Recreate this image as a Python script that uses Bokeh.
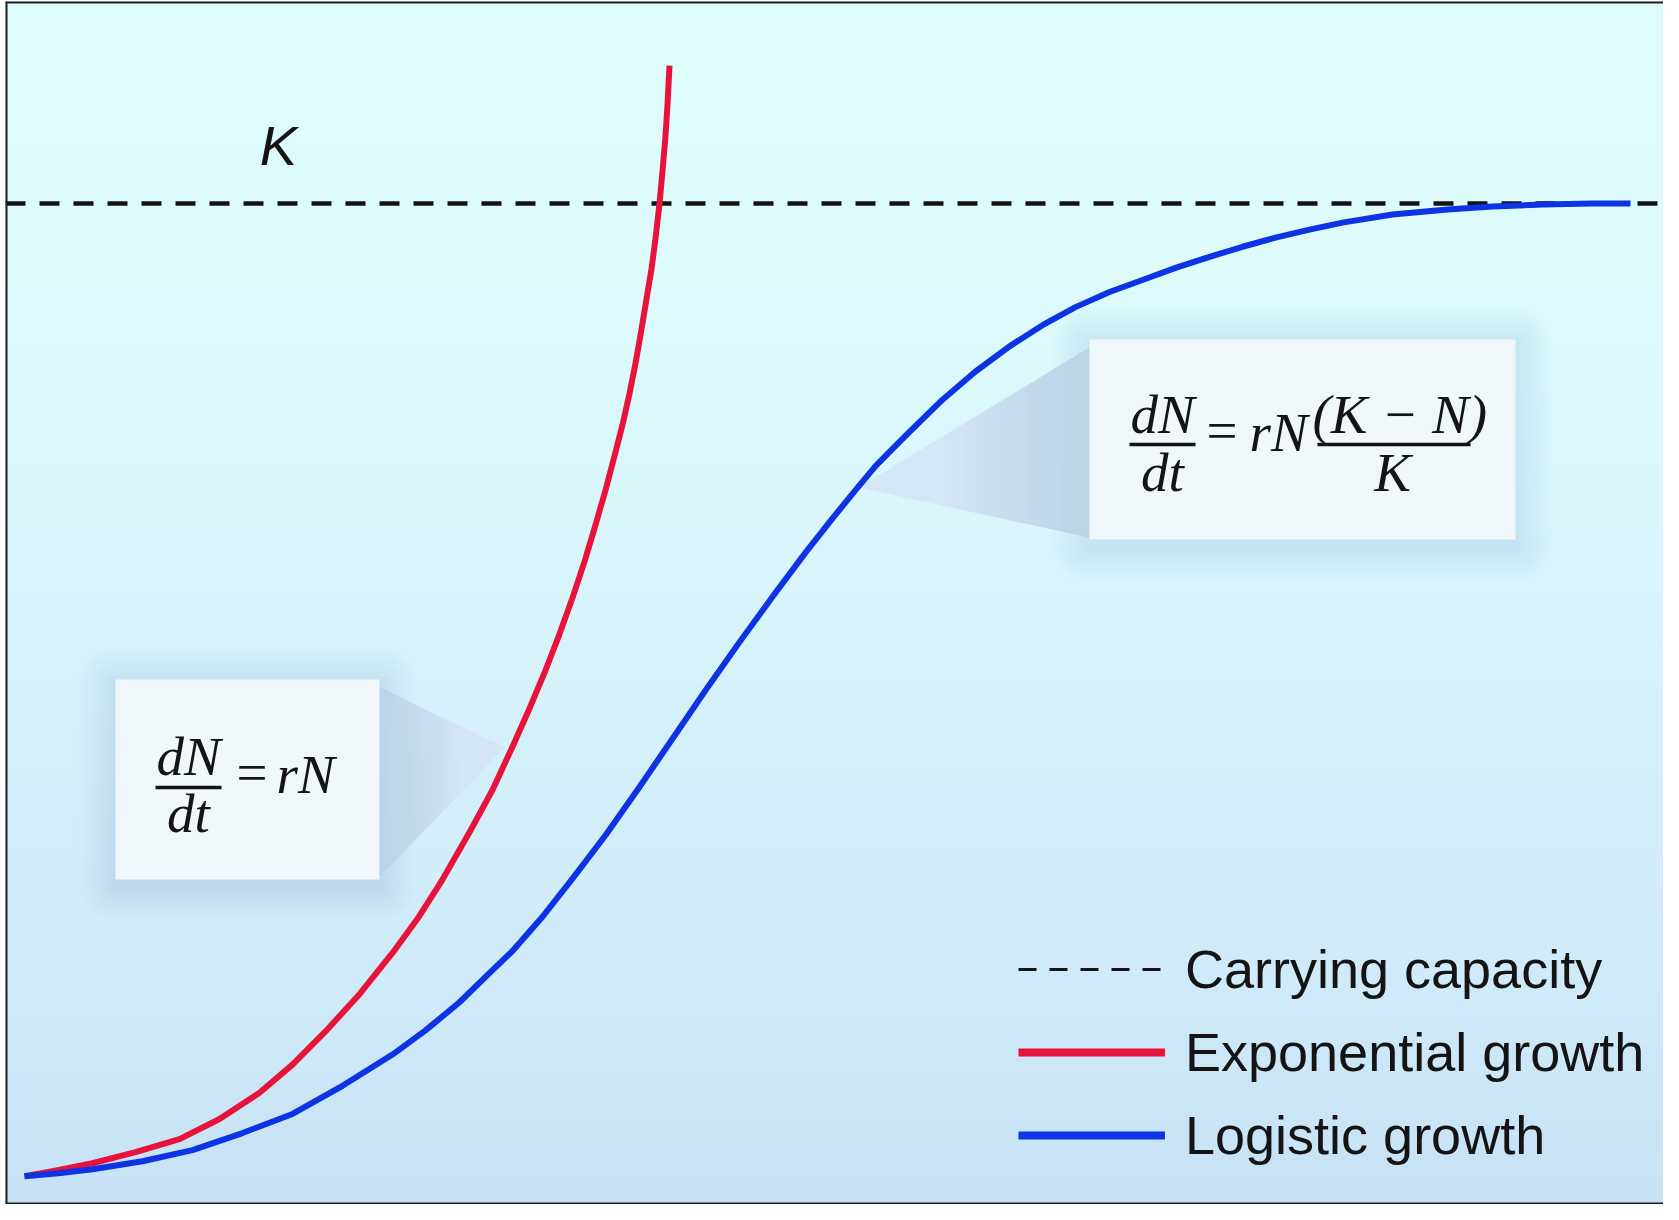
import numpy as np
from bokeh.plotting import figure
from bokeh.models import (Range1d, Span, BoxAnnotation, PolyAnnotation, Label,
                          Legend, LegendItem)
from bokeh.embed import file_html
from bokeh.resources import INLINE

# ---------------- data ----------------
K = 1000  # carrying capacity

# exponential growth (time, population)
t_exp = [0.00, 0.28, 0.68, 1.11, 1.55, 1.95, 2.35, 2.68, 3.01, 3.35, 3.68,
         3.93, 4.18, 4.45, 4.68, 4.88, 5.05, 5.21, 5.35, 5.48, 5.60, 5.70,
         5.81, 5.90, 5.98, 6.05, 6.11, 6.16, 6.21, 6.27, 6.31, 6.35, 6.38,
         6.41, 6.43, 6.45]
n_exp = [33, 38, 46, 57, 70, 90, 116, 144, 177, 214, 255,
         289, 328, 375, 417, 460, 498, 536, 572, 608, 644, 677,
         715, 749, 780, 811, 841, 869, 899, 935, 965, 1000, 1032,
         1067, 1098, 1137]

# logistic growth (time, population)
t_log = [0.00, 0.34, 0.68, 1.18, 1.68, 2.18, 2.68, 3.18, 3.68, 4.01, 4.35,
         4.68, 4.88, 5.18, 5.48, 5.81, 6.15, 6.48, 6.81, 7.15, 7.48, 7.81,
         8.08, 8.31, 8.51, 8.68, 8.85, 9.18, 9.51, 9.85, 10.18, 10.51, 10.85,
         11.18, 11.51, 11.85, 12.18, 12.51, 12.85, 13.18, 13.68, 14.23, 14.68,
         15.18, 15.68, 16.06]
n_log = [33, 36, 40, 48, 59, 76, 95, 123, 154, 178, 206,
         238, 257, 291, 329, 372, 420, 468, 516, 564, 609, 653,
         687, 715, 739, 756, 773, 805, 833, 858, 879, 897, 912,
         924, 936, 947, 957, 966, 974, 981, 989, 994, 997,
         999, 1000, 1000]

legend_labels = ["Carrying capacity", "Exponential growth", "Logistic growth"]
k_label = "K"

# ---------------- layout helpers (page pixels -> data units) ----------------
X0, SX = 32.0, 100.0
Y0, SY = 1217.0, 1.006
TXT_SHIFT = 19  # label baseline correction, px


def dx(px):
    return (px - X0) / SX


def dy(py):
    return (Y0 - py) / SY


RED = "#e8133a"
BLUE = "#0c33e4"
INK = "#141414"

p = figure(width=1663, height=1204,
           x_range=Range1d(dx(13), dx(1671)), y_range=Range1d(dy(1212), dy(9)),
           x_axis_type=None, y_axis_type=None, toolbar_location=None,
           output_backend="svg", min_border_left=5, min_border_right=0,
           min_border_top=1, min_border_bottom=0, outline_line_color=None,
           background_fill_color="#d8f2fa", border_fill_color="white")
p.grid.visible = False

# ---------------- background gradient ----------------
rows = 600
x0, x1 = p.x_range.start, p.x_range.end
y0, y1 = p.y_range.start, p.y_range.end
ys = np.linspace(y0, y1, rows)
pys = Y0 - ys * SY
stop_py = [9, 300, 650, 1000, 1212]
stop_r = [223, 221, 215, 207, 199]
stop_g = [253, 251, 244, 234, 226]
stop_b = [251, 251, 251, 248, 245]
img = np.empty((rows, 1), dtype=np.uint32)
view = img.view(dtype=np.uint8).reshape((rows, 1, 4))
view[:, 0, 0] = np.interp(pys, stop_py, stop_r)
view[:, 0, 1] = np.interp(pys, stop_py, stop_g)
view[:, 0, 2] = np.interp(pys, stop_py, stop_b)
view[:, 0, 3] = 255
bg = p.image_rgba(image=[img], x=x0, y=y0, dw=x1 - x0, dh=y1 - y0)
bg.level = "image"

# ---------------- callout boxes ----------------
boxes = [
    dict(l=123, t=687, r=387, b=887, tip=(512, 755), side="right"),
    dict(l=1097, t=347, r=1523, b=547, tip=(866, 495), side="left"),
]
for bx in boxes:
    for i in range(9):
        g = 4 * (i + 1)
        p.add_layout(BoxAnnotation(left=dx(bx["l"] - g), right=dx(bx["r"] + g),
                                   top=dy(bx["t"] - g + 4), bottom=dy(bx["b"] + g + 6),
                                   fill_color="#6c9fd8", fill_alpha=0.022,
                                   line_color=None, border_radius=g,
                                   level="underlay"))
    ex = bx["r"] if bx["side"] == "right" else bx["l"]
    tx, ty = bx["tip"]
    yt, yb = bx["t"] + 8, bx["b"] - 2
    p.add_layout(PolyAnnotation(xs=[dx(ex), dx(tx), dx(ex)],
                                ys=[dy(yt), dy(ty), dy(yb)],
                                fill_color="#d3e4f4", fill_alpha=0.85,
                                line_color=None, level="underlay"))
    # smooth darkening towards the box
    for k in range(1, 15):
        frac = 0.045 * k
        mx = ex + (tx - ex) * frac
        my = yt + (ty - yt) * frac
        my2 = yb + (ty - yb) * frac
        p.add_layout(PolyAnnotation(xs=[dx(ex), dx(mx), dx(mx), dx(ex)],
                                    ys=[dy(yt), dy(my), dy(my2), dy(yb)],
                                    fill_color="#93b6e2", fill_alpha=0.03,
                                    line_color=None, level="underlay"))
    p.add_layout(BoxAnnotation(left=dx(bx["l"]), right=dx(bx["r"]),
                               top=dy(bx["t"]), bottom=dy(bx["b"]),
                               fill_color="#eff7fa", fill_alpha=1.0,
                               line_color=None, level="underlay"))

# ---------------- carrying capacity line ----------------
p.add_layout(Span(location=K, dimension="width", line_color=INK,
                  line_width=4.5, line_dash="20 14", level="underlay"))

# ---------------- curves ----------------
p.line(t_exp, n_exp, line_color=RED, line_width=6, line_join="round")
p.line(t_log, n_log, line_color=BLUE, line_width=6, line_join="round")

# ---------------- frame border (left, top, bottom) ----------------
for loc, dim in [(x0, "height"), (y1, "width"), (y0, "width")]:
    p.add_layout(Span(location=loc, dimension=dim, line_color="#1e1e1e",
                      line_width=4, level="overlay"))

# ---------------- K label ----------------
p.add_layout(Label(x=dx(286), y=dy(173 - TXT_SHIFT - 1), text=k_label,
                   text_font="Liberation Sans", text_font_style="italic",
                   text_font_size="56px", text_align="center",
                   text_baseline="alphabetic", text_color=INK))

# ---------------- equations ----------------
SERIF = "Liberation Serif"


def eq_text(x, y, s, align="left", italic=True):
    p.add_layout(Label(x=dx(x), y=dy(y - TXT_SHIFT), text=s, text_font=SERIF,
                       text_font_style="italic" if italic else "normal",
                       text_font_size="55px", text_align=align,
                       text_baseline="alphabetic", text_color=INK))


def bar(l, r, y):
    p.add_layout(BoxAnnotation(left=dx(l), right=dx(r), top=dy(y - 1.8),
                               bottom=dy(y + 1.8), fill_color=INK, fill_alpha=1,
                               line_color=None))


# dN/dt = rN
eq_text(196, 783, "dN", "center")
bar(163, 229, 795)
eq_text(196, 840, "dt", "center")
eq_text(244, 799, "=", italic=False)
eq_text(284, 801, "rN")

# dN/dt = rN (K - N)/K
eq_text(1170, 441, "dN", "center")
bar(1137, 1203, 452)
eq_text(1170, 499, "dt", "center")
eq_text(1214, 457, "=", italic=False)
eq_text(1257, 459, "rN")
eq_text(1320, 441, "(K \u2212 N)")
bar(1325, 1478, 452)
eq_text(1400, 499, "K", "center")

# ---------------- legend ----------------
nan = [float("nan")]
r_k = p.line(x=nan, y=nan, line_color=INK, line_width=3, line_dash="18 13")
r_e = p.line(x=nan, y=nan, line_color=RED, line_width=8)
r_l = p.line(x=nan, y=nan, line_color=BLUE, line_width=8)
legend = Legend(items=[LegendItem(label=legend_labels[0], renderers=[r_k]),
                       LegendItem(label=legend_labels[1], renderers=[r_e]),
                       LegendItem(label=legend_labels[2], renderers=[r_l])],
                location=(1013, 38), orientation="vertical",
                glyph_width=147, glyph_height=62, label_height=62,
                label_standoff=20, spacing=21, padding=0, margin=0,
                border_line_color=None, background_fill_alpha=0,
                label_text_font="Liberation Sans", label_text_font_size="54px",
                label_text_color=INK)
p.add_layout(legend)

open("out.html", "w").write(file_html(p, INLINE))
